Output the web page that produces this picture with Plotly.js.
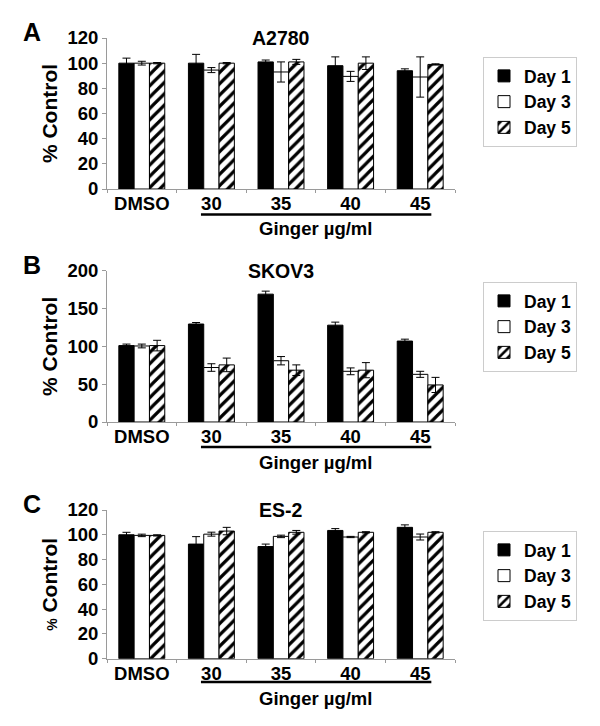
<!DOCTYPE html>
<html>
<head>
<meta charset="utf-8">
<script src="https://cdn.plot.ly/plotly-3.0.1.min.js"></script>
<style>html,body{margin:0;padding:0;background:#fff;}</style>
</head>
<body>
<div id="chart" style="width:600px;height:726px;"></div>
<script>
// ---- data ----
const categories = ['DMSO', '30', '35', '40', '45'];
const seriesNames = ['Day 1', 'Day 3', 'Day 5'];
const panelTitles = ['A2780', 'SKOV3', 'ES-2'];
const panelLetters = ['A', 'B', 'C'];
const xGroupLabel = 'Ginger µg/ml';

// Panel A: A2780
const a_day1 = [100, 100, 101, 98, 94];
const a_day1_err = [4, 7, 1.5, 7, 1.5];
const a_day3 = [100, 94.5, 93, 89.5, 89];
const a_day3_err = [1.5, 2, 8, 4, 16];
const a_day5 = [100, 100, 101, 100, 99];
const a_day5_err = [0.5, 0.5, 2, 5, 0.5];

// Panel B: SKOV3
const b_day1 = [101, 129.5, 169, 128, 107];
const b_day1_err = [2, 2, 4, 4, 2.5];
const b_day3 = [100.5, 72, 81, 67, 63];
const b_day3_err = [2.5, 5, 5.5, 4.5, 4];
const b_day5 = [101, 75.5, 68.5, 68.5, 49];
const b_day5_err = [7, 9, 7, 10, 10];

// Panel C: ES-2
const c_day1 = [100, 92.5, 90.5, 103.5, 106];
const c_day1_err = [2, 6, 2, 1.5, 2];
const c_day3 = [99.5, 100.5, 98.7, 98.2, 98.2];
const c_day3_err = [1, 1.6, 1, 0.5, 2.4];
const c_day5 = [99.5, 103, 102, 102, 102];
const c_day5_err = [0.5, 3, 1.5, 0.5, 0.5];

const panelData = [
  [[a_day1, a_day1_err], [a_day3, a_day3_err], [a_day5, a_day5_err]],
  [[b_day1, b_day1_err], [b_day3, b_day3_err], [b_day5, b_day5_err]],
  [[c_day1, c_day1_err], [c_day3, c_day3_err], [c_day5, c_day5_err]]
];
const yRanges = [[0, 120], [0, 200], [0, 120]];
const yDticks = [20, 50, 20];

// ---- styling ----
const FONT = 'Liberation Sans, Arial, Helvetica, sans-serif';
const W = 600, H = 726;
const xDomain = [107 / W, 455 / W];
const yPix = [[38, 189], [270.7, 422], [510, 658.7]]; // top,bottom in pixels
const underlinePix = [214.5, 447, 682];
const legendTop = [57, 282, 531];
const axSuffix = ['', '2', '3'];

const markers = [
  {color: '#000000', line: {color: '#000', width: 1}},
  {color: '#ffffff', line: {color: '#000', width: 1}},
  {color: '#ffffff', line: {color: '#000', width: 1},
   pattern: {shape: '/', fgcolor: '#000', bgcolor: '#fff', size: 8, solidity: 0.4}}
];

const traces = [];
panelData.forEach((pd, p) => {
  pd.forEach((s, k) => {
    traces.push({
      type: 'bar',
      name: seriesNames[k],
      x: categories,
      y: s[0],
      error_y: {type: 'data', array: s[1], visible: true, color: '#000', thickness: 1, width: 4},
      marker: markers[k],
      xaxis: 'x' + axSuffix[p],
      yaxis: 'y' + axSuffix[p],
      legend: 'legend' + axSuffix[p],
      hoverinfo: 'skip'
    });
  });
});

const layout = {
  width: W, height: H,
  margin: {l: 0, r: 0, t: 0, b: 0},
  paper_bgcolor: '#fff', plot_bgcolor: '#fff',
  font: {family: FONT, size: 18, color: '#000', weight: 'bold'},
  barmode: 'group', bargap: 0.34, bargroupgap: 0,
  showlegend: true,
  shapes: [], annotations: []
};

for (let p = 0; p < 3; p++) {
  const s = axSuffix[p];
  const top = yPix[p][0], bot = yPix[p][1];
  layout['xaxis' + s] = {
    domain: xDomain, anchor: 'y' + s, type: 'category',
    showline: true, linecolor: '#9a9a9a', linewidth: 1,
    ticks: 'outside', ticklen: 3, tickcolor: '#9a9a9a', tickson: 'boundaries',
    ticklabelstandoff: -2,
    showgrid: false, zeroline: false,
    tickfont: {family: FONT, size: 18.5, weight: 'bold', color: '#000'}
  };
  const yTitle = p === 2
    ? '<span style="font-size:14px">%</span> Control'
    : '% Control';
  layout['yaxis' + s] = {
    domain: [1 - bot / H, 1 - top / H], anchor: 'x' + s,
    range: yRanges[p], dtick: yDticks[p], tick0: 0,
    showline: true, linecolor: '#9a9a9a', linewidth: 1,
    ticks: 'outside', ticklen: 4, tickcolor: '#9a9a9a',
    showgrid: false, zeroline: false,
    tickfont: {family: FONT, size: 18.5, weight: 'bold', color: '#000'},
    title: {text: yTitle, font: {family: FONT, size: 21, weight: 'bold'}, standoff: 4}
  };
  layout['legend' + s] = {
    x: 483 / W, y: 1 - legendTop[p] / H, xanchor: 'left', yanchor: 'top',
    bordercolor: '#cccccc', borderwidth: 1, bgcolor: '#fff',
    font: {family: FONT, size: 17.5, weight: 'bold', color: '#000'},
    tracegroupgap: 0, itemwidth: 30
  };
  // panel title
  layout.annotations.push({
    xref: 'x' + s + ' domain', yref: 'paper', x: 0.5, y: 1 - (top) / H,
    text: panelTitles[p], showarrow: false, xanchor: 'center', yanchor: 'middle',
    font: {family: FONT, size: 19.5, weight: 'bold'}
  });
  // panel letter
  layout.annotations.push({
    xref: 'paper', yref: 'paper', x: 21 / W, y: 1 - (top - 6) / H,
    text: panelLetters[p], showarrow: false, xanchor: 'left', yanchor: 'middle',
    font: {family: FONT, size: 25, weight: 'bold'}
  });
  // group label
  layout.annotations.push({
    xref: 'x' + s, yref: 'y' + s, x: 2.5, y: 0, yshift: -40,
    text: xGroupLabel, showarrow: false, xanchor: 'center', yanchor: 'middle',
    font: {family: FONT, size: 18.5, weight: 'bold'}
  });
  // underline of concentrations
  layout.shapes.push({
    type: 'line', xref: 'x' + s, yref: 'paper',
    x0: 0.85, x1: 4.16, y0: 1 - underlinePix[p] / H, y1: 1 - underlinePix[p] / H,
    line: {color: '#000', width: 2.5}
  });
}

Plotly.newPlot('chart', traces, layout, {displayModeBar: false, staticPlot: true});
</script>
</body>
</html>
